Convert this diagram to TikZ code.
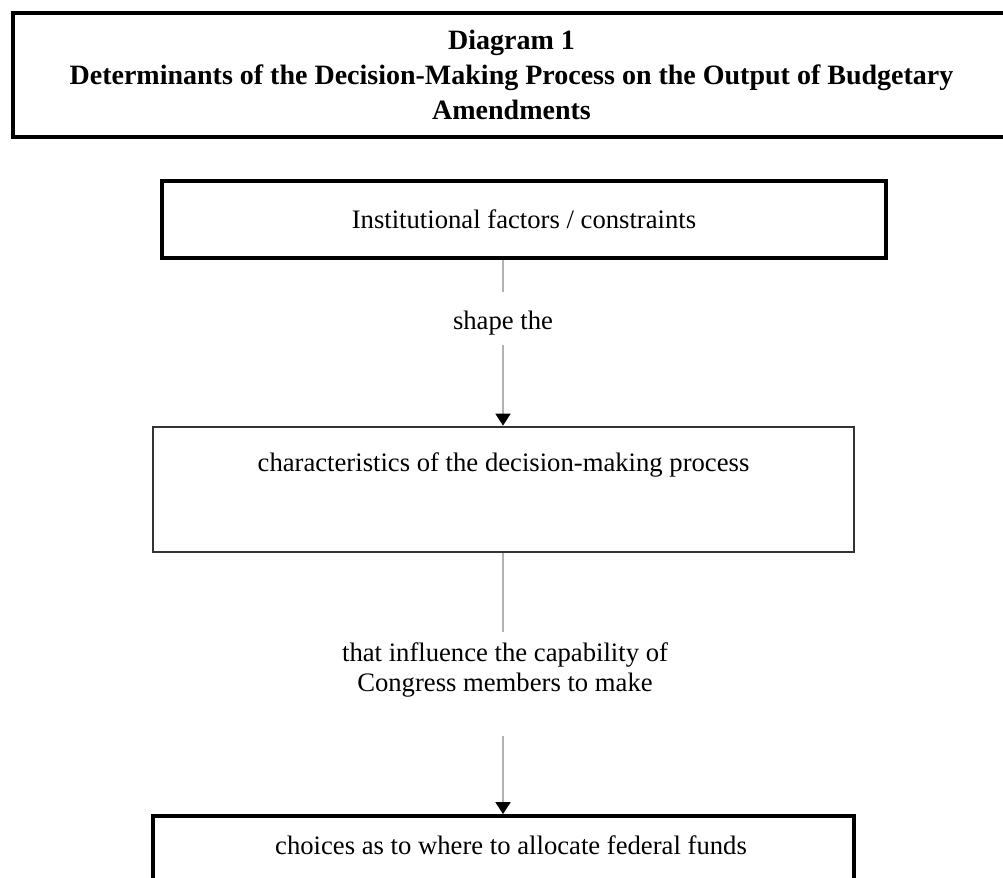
\documentclass[tikz,border=0pt]{standalone}
\usepackage{fontspec}
\setmainfont{Liberation Serif}
\usetikzlibrary{arrows.meta, positioning}

\begin{document}
\begin{tikzpicture}[
		x=0.75pt, y=-0.75pt,
		titlebox/.style={draw=black, line width=2.8pt, minimum width=747.75pt, minimum height=93pt, font=\fontsize{21}{26}\selectfont\bfseries},
		box/.style={draw=black, line width=2.8pt, font=\fontsize{20}{22.5}\selectfont},
		txt/.style={inner sep=4pt, font=\fontsize{20}{22.5}\selectfont},
		link/.style={draw=black!30, line width=2pt},
		tip/.style={-{Triangle[color=black, width=11pt, length=9pt]}},
		every node/.style={align=center}
		]
		\useasboundingbox (0,0) rectangle (1003,878);
		
		% Title
		\node[titlebox] (title) at (511.5,75) {Diagram 1\\ Determinants of the Decision-Making Process on the Output of Budgetary\\ Amendments};
		
		% Boxes
		\node[box, minimum width=543pt, minimum height=57.75pt] (inst) at (524,219.5) {Institutional factors / constraints};
		\node[box, draw=black!80, line width=2pt, minimum width=525.75pt, minimum height=93.75pt] (proc) at (503.5,489.5) {};
		\node[txt] (proctext) at (503.5,465) {characteristics of the decision-making process};
		\node[box, minimum width=525.75pt, minimum height=105pt] (choice) at (503.5,886) {};
		\node[txt] (choicetext) at (511,845) {choices as to where to allocate federal funds};
		
		% Labels on the links
		\node[txt] (shape) at (503,323) {shape the};
		\node[txt] (infl) at (505,670) {that influence the capability of\\ Congress members to make};
		
		% Links
		\draw[link, shorten >=10pt] (inst.south -| shape) -- (shape);
		\draw[link, tip, shorten <=3pt] (shape) -- (shape |- proc.north);
		\draw[link, shorten >=4pt] (proc.south -| shape) -- (infl.north -| shape);
		\draw[link, tip, shorten <=25pt] (infl.south -| shape) -- (shape |- choice.north);
		
	\end{tikzpicture}
\end{document}
